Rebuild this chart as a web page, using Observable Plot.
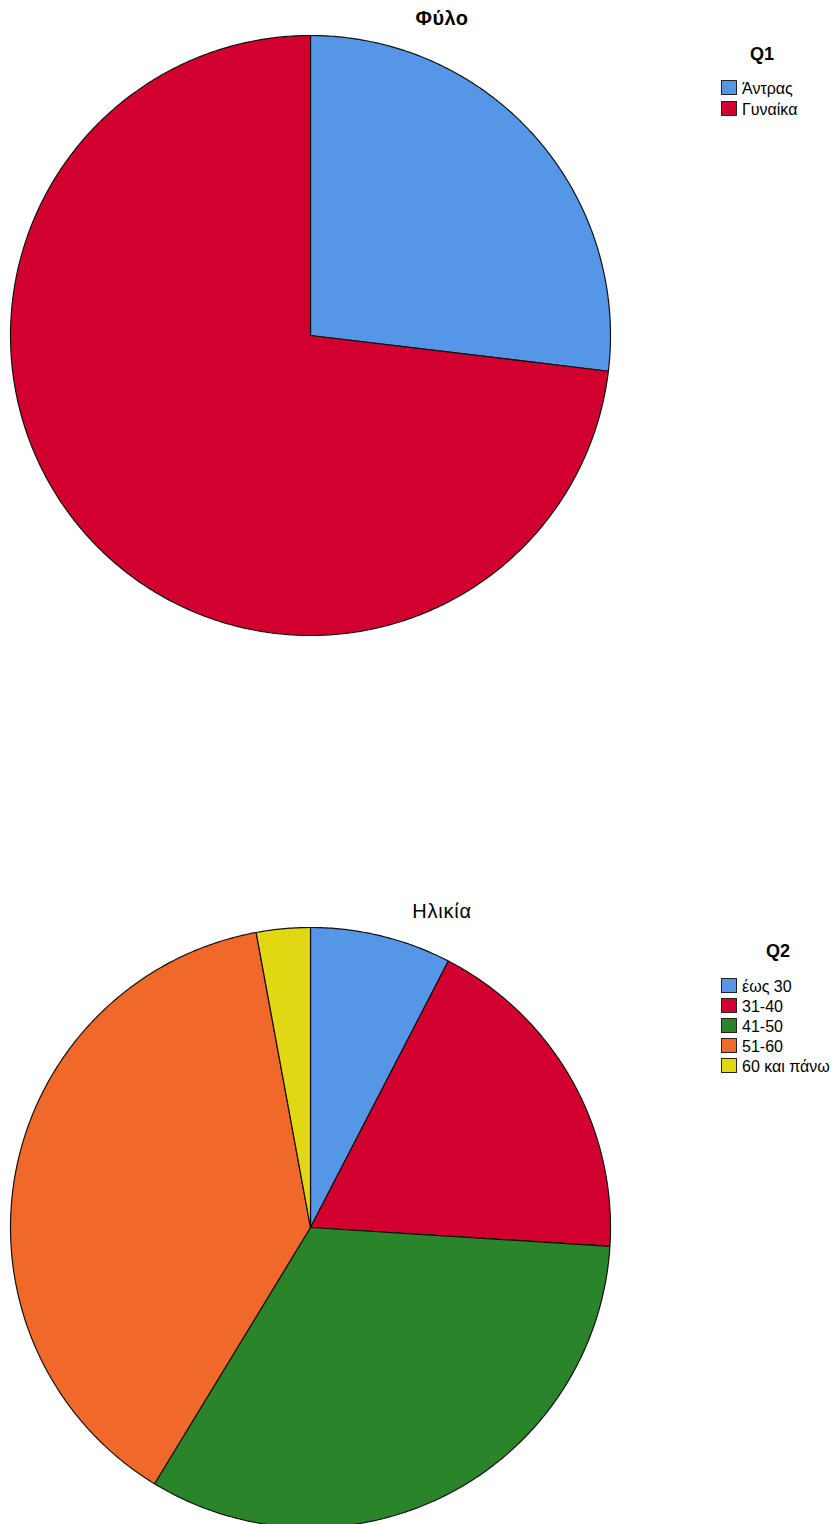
<!DOCTYPE html>
<html><head><meta charset="utf-8">
<script src="https://cdn.jsdelivr.net/npm/d3@7"></script>
<script src="https://cdn.jsdelivr.net/npm/@observablehq/plot@0.6"></script>
<style>
body{margin:0;background:#fff;font-family:Arial,"Liberation Sans",sans-serif;}
#page{position:relative;width:837px;height:1524px;overflow:hidden;background:#fff;}
.t{position:absolute;white-space:nowrap;line-height:1;color:#000;}
.sw{position:absolute;box-sizing:border-box;width:16px;height:15px;border:1px solid #222;}
.pie{position:absolute;left:0;}
</style></head><body><div id="page"></div>
<script>
// Data
const genderCats = ["Άντρας", "Γυναίκα"];
const genderPct = [26.9, 73.1];
const genderColors = ["#5596E6", "#D2002E"];
const ageCats = ["έως 30", "31-40", "41-50", "51-60", "60 και πάνω"];
const agePct = [7.6, 18.4, 32.7, 38.4, 2.9];
const ageColors = ["#5596E6", "#D2002E", "#2A852A", "#F0682A", "#E1D712"];
const chartTitles = ["Φύλο", "Ηλικία"];
const legendTitles = ["Q1", "Q2"];

const page = document.getElementById("page");

function text(str, x, baseline, size, weight, anchor, spacing) {
  const d = document.createElement("div");
  d.className = "t";
  d.textContent = str;
  d.style.fontSize = size + "px";
  d.style.fontWeight = weight;
  if (spacing) d.style.letterSpacing = spacing + "px";
  d.style.top = (baseline - 0.8465 * size) + "px";
  d.style.left = x + "px";
  if (anchor === "middle") d.style.transform = "translateX(-50%)";
  page.appendChild(d);
}

function pie(cats, vals, colors) {
  const arcs = d3.pie().sort(null).value(d => d)(vals);
  const pts = [];
  arcs.forEach((a, i) => {
    pts.push({cat: cats[i], x: 0, y: 0});
    const n = Math.max(2, Math.ceil((a.endAngle - a.startAngle) / (Math.PI / 360)));
    for (let k = 0; k <= n; k++) {
      const t = a.startAngle + (a.endAngle - a.startAngle) * k / n;
      pts.push({cat: cats[i], x: Math.sin(t), y: Math.cos(t)});
    }
  });
  return Plot.plot({
    width: 620, height: 620, margin: 10,
    x: {domain: [-1, 1], axis: null},
    y: {domain: [-1, 1], axis: null},
    color: {domain: cats, range: colors},
    marks: [
      Plot.line(pts, {x: "x", y: "y", z: "cat", fill: "cat", stroke: "#111", strokeWidth: 1.2, curve: "linear-closed", strokeLinejoin: "miter"})
    ]
  });
}

function legend(title, cats, colors, titleX, titleBase, firstBase, step) {
  text(title, titleX, titleBase, 18, "bold", "middle");
  cats.forEach((c, i) => {
    const b = firstBase + i * step;
    const s = document.createElement("div");
    s.className = "sw";
    s.style.left = "721px";
    s.style.top = (b - 15.5) + "px";
    s.style.background = colors[i];
    page.appendChild(s);
    text(c, 742, b, 16, "normal", "start");
  });
}

const p1 = pie(genderCats, genderPct, genderColors);
p1.classList.add("pie"); p1.style.top = "25px";
page.appendChild(p1);
const p2 = pie(ageCats, agePct, ageColors);
p2.classList.add("pie"); p2.style.top = "917px";
page.appendChild(p2);

text(chartTitles[0], 442, 25, 20, "bold", "middle", 0.4);
text(chartTitles[1], 442, 918, 20, "500", "middle", 0.8);
legend(legendTitles[0], genderCats, genderColors, 762, 60, 95, 21);
legend(legendTitles[1], ageCats, ageColors, 778, 957, 993, 20);
</script></body></html>
